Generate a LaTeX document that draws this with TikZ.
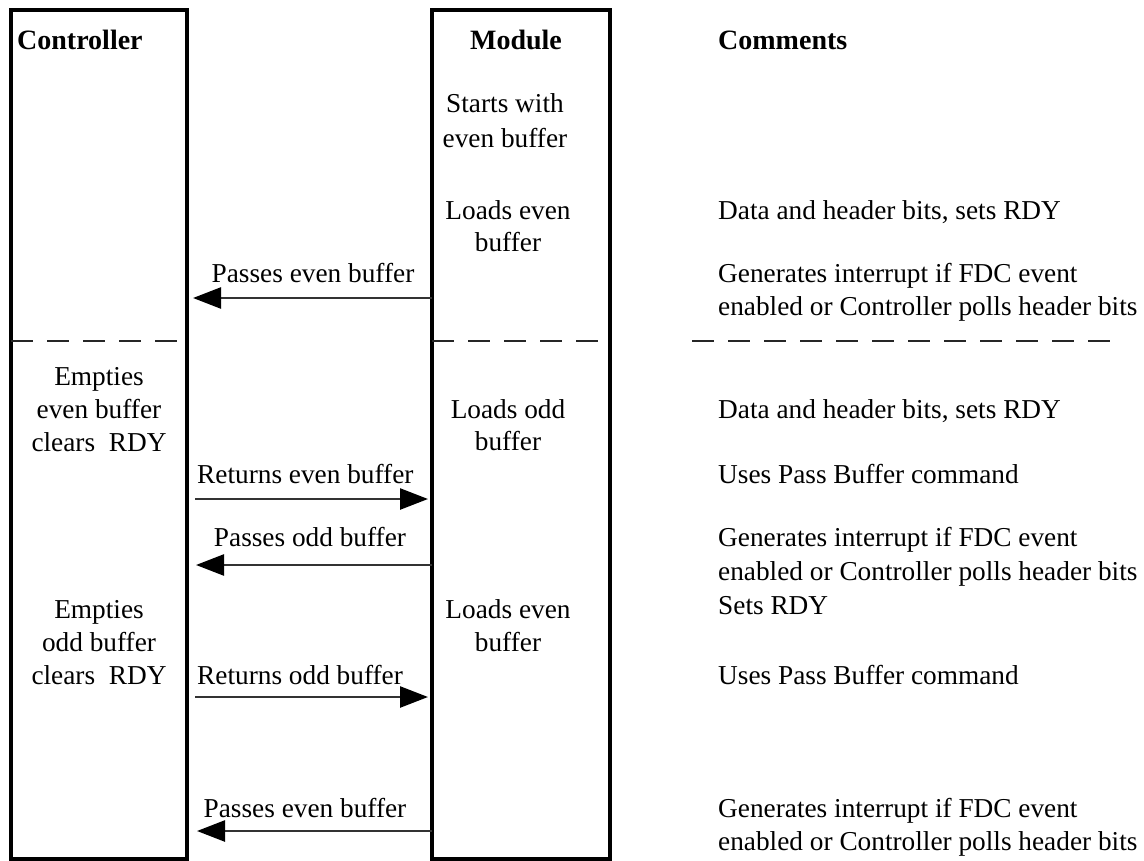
\documentclass[tikz,border=0pt]{standalone}
\usepackage{fontspec}
\setmainfont{Liberation Serif}
\usetikzlibrary{arrows.meta}
\tikzset{
  box/.style={draw=black, line width=4pt, rectangle, inner sep=0pt, outer sep=0pt, anchor=north west},
  txt/.style={font=\fontsize{27.3}{32}\selectfont, inner sep=0pt, text=black},
  head/.style={font=\fontsize{28}{32}\selectfont\bfseries, inner sep=0pt, text=black},
  msg/.style={draw=black!80, line width=2.5pt, -{Triangle[length=28pt,width=21pt,color=black]}},
  sep/.style={draw=black!85, line width=2.5pt, dash pattern=on 22pt off 14pt},
}
\begin{document}
\begin{tikzpicture}[x=1pt,y=-1pt]
\useasboundingbox (0,0) rectangle (1144,861);
\fill[white] (0,0) rectangle (1144,861);
% boxes
\node[box, minimum width=176pt, minimum height=849pt] (ctrl) at (11,10) {};
\node[box, minimum width=178pt, minimum height=849pt] (mod) at (432,10) {};
% headings
\node[head, anchor=base west] (hc) at (17,50) {Controller};
\node[head, anchor=base] (hm) at (516,50) {Module};
\node[head, anchor=base west] (hk) at (718,50) {Comments};
% separators
\coordinate (s1a) at (11,341); \coordinate (s1b) at (187,341);
\coordinate (s2a) at (432,341); \coordinate (s2b) at (610,341);
\coordinate (s3a) at (692,341); \coordinate (s3b) at (1110,341);
\draw[sep] (s1a) -- (s1b);
\draw[sep] (s2a) -- (s2b);
\draw[sep] (s3a) -- (s3b);
% module texts
\node[txt, anchor=base] (m1a) at (505,113) {Starts with};
\node[txt, anchor=base] (m1b) at (505,148) {even buffer};
\node[txt, anchor=base] (m2a) at (508,220) {Loads even};
\node[txt, anchor=base] (m2b) at (508,252) {buffer};
\node[txt, anchor=base] (m3a) at (508,418) {Loads odd};
\node[txt, anchor=base] (m3b) at (508,450) {buffer};
\node[txt, anchor=base] (m4a) at (508,618) {Loads even};
\node[txt, anchor=base] (m4b) at (508,651) {buffer};
% controller texts
\node[txt, anchor=base] (c1a) at (99,385) {Empties};
\node[txt, anchor=base] (c1b) at (99,418) {even buffer};
\node[txt, anchor=base] (c1c) at (99,451) {clears\ \ RDY};
\node[txt, anchor=base] (c2a) at (99,618) {Empties};
\node[txt, anchor=base] (c2b) at (99,651) {odd buffer};
\node[txt, anchor=base] (c2c) at (99,684) {clears\ \ RDY};
% messages
\coordinate (a1m) at (432,298); \coordinate (a1c) at (193,298);
\coordinate (a2c) at (195,499); \coordinate (a2m) at (428,499);
\coordinate (a3m) at (432,565); \coordinate (a3c) at (196,565);
\coordinate (a4c) at (195,697); \coordinate (a4m) at (428,697);
\coordinate (a5m) at (432,831); \coordinate (a5c) at (197,831);
\draw[msg] (a1m) -- (a1c);
\draw[msg] (a2c) -- (a2m);
\draw[msg] (a3m) -- (a3c);
\draw[msg] (a4c) -- (a4m);
\draw[msg] (a5m) -- (a5c);
\node[txt, anchor=base] (l1) at (313,283) {Passes even buffer};
\node[txt, anchor=base west] (l2) at (197,483) {Returns even buffer};
\node[txt, anchor=base] (l3) at (310,546) {Passes odd buffer};
\node[txt, anchor=base west] (l4) at (197,684) {Returns odd buffer};
\node[txt, anchor=base] (l5) at (305,817) {Passes even buffer};
% comments
\node[txt, anchor=base west] (k1) at (718,220) {Data and header bits, sets RDY};
\node[txt, anchor=base west] (k2a) at (718,283) {Generates interrupt if FDC event};
\node[txt, anchor=base west] (k2b) at (718,316) {enabled or Controller polls header bits};
\node[txt, anchor=base west] (k3) at (718,418) {Data and header bits, sets RDY};
\node[txt, anchor=base west] (k4) at (718,483) {Uses Pass Buffer command};
\node[txt, anchor=base west] (k5a) at (718,546) {Generates interrupt if FDC event};
\node[txt, anchor=base west] (k5b) at (718,580) {enabled or Controller polls header bits};
\node[txt, anchor=base west] (k5c) at (718,614) {Sets RDY};
\node[txt, anchor=base west] (k6) at (718,684) {Uses Pass Buffer command};
\node[txt, anchor=base west] (k7a) at (718,817) {Generates interrupt if FDC event};
\node[txt, anchor=base west] (k7b) at (718,850) {enabled or Controller polls header bits};
\end{tikzpicture}
\end{document}
